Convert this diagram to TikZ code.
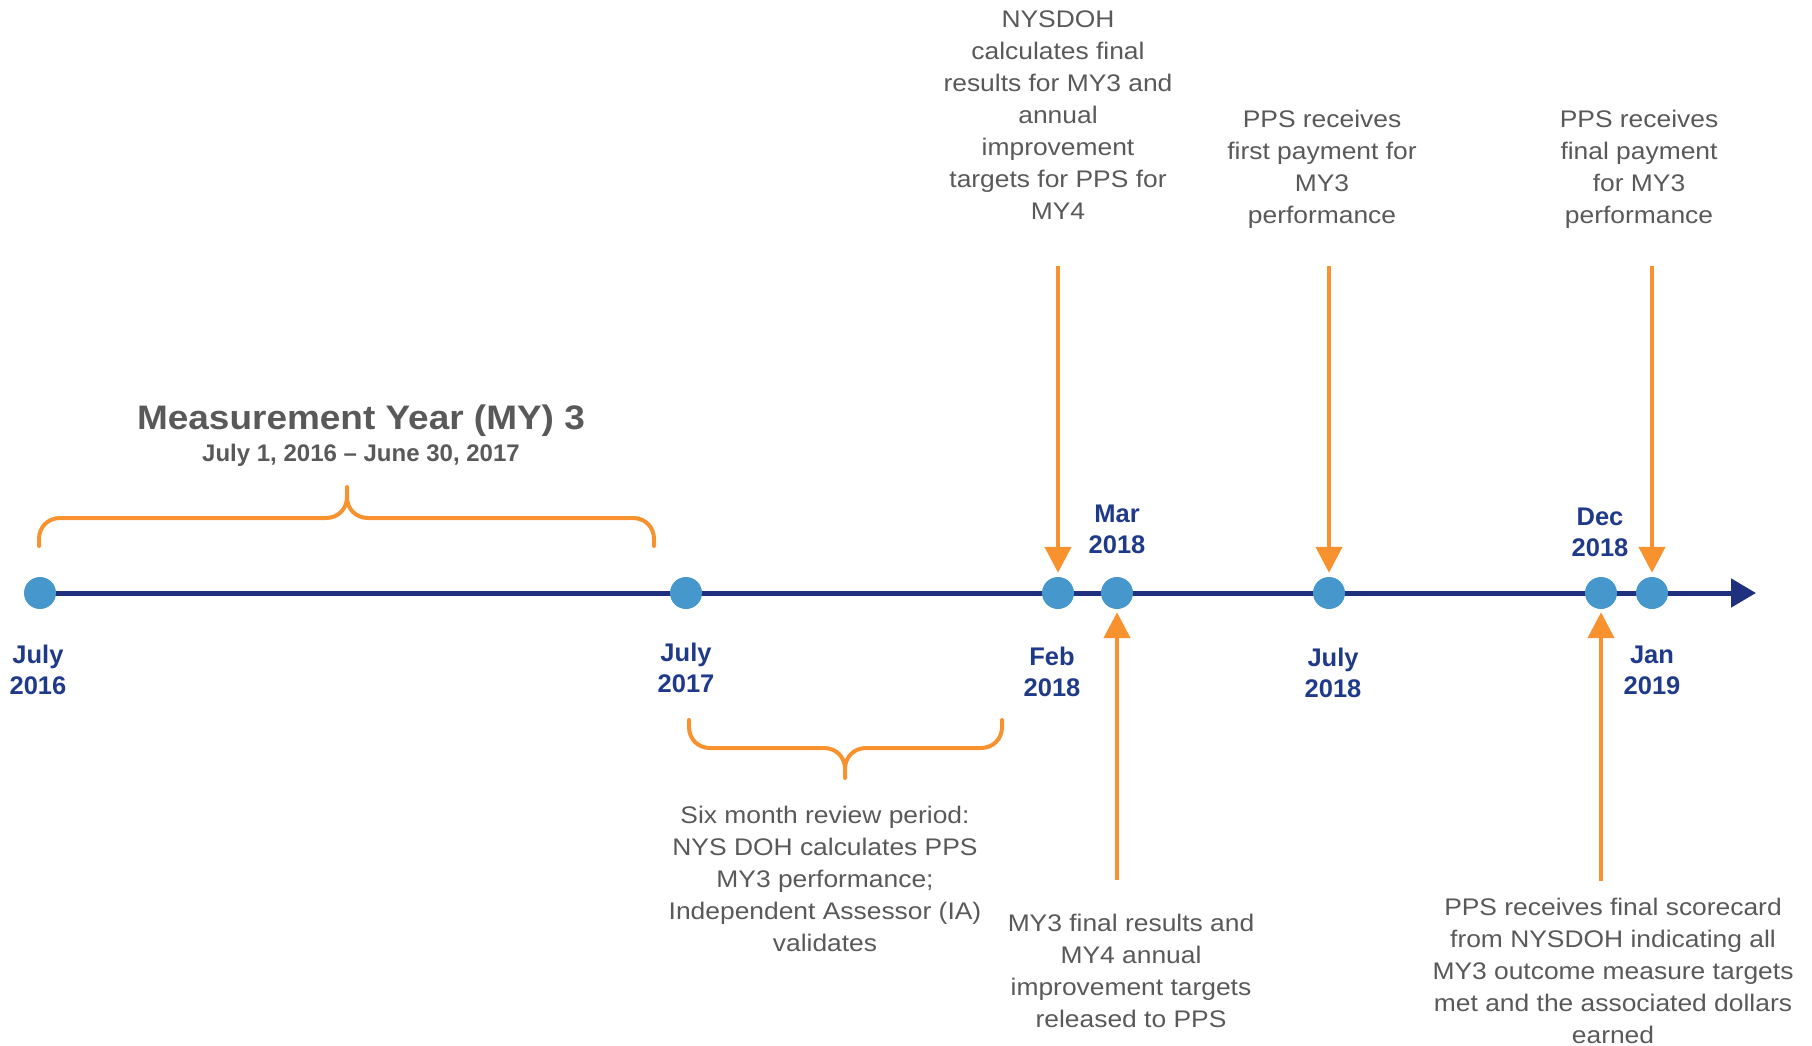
\documentclass[tikz,border=0pt]{standalone}
\usepackage{fontspec}
\setmainfont{Liberation Sans}
\newfontfamily\grayfont[FakeStretch=1.1]{Liberation Sans}
\newfontfamily\titlefont[FakeStretch=1.087]{Liberation Sans}
\usetikzlibrary{arrows.meta,backgrounds}
\definecolor{orangeC}{RGB}{247,146,47}
\definecolor{dotblue}{RGB}{70,152,204}
\definecolor{linenavy}{RGB}{31,49,126}
\definecolor{labelnavy}{RGB}{32,58,138}
\definecolor{graytext}{RGB}{89,89,89}
\begin{document}
\begin{tikzpicture}[x=1pt,y=-1pt,
  dot/.style={circle,fill=dotblue,minimum size=32pt,inner sep=0pt},
  datelabel/.style={anchor=north,inner sep=0pt,align=center,text=labelnavy,font=\fontsize{25.5}{31}\selectfont\bfseries},
  graytxt/.style={anchor=north,inner sep=0pt,align=center,text=graytext,font=\grayfont\fontsize{24}{32}\selectfont},
  oarrow/.style={draw=orangeC,line width=4.5pt,-{Triangle[length=26pt,width=26pt]}},
  bracec/.style={draw=orangeC,line width=4pt,line cap=round,line join=round},
  tline/.style={draw=linenavy,line width=5pt,-{Triangle[length=25pt,width=28pt]}}]
\useasboundingbox (0,0) rectangle (1812,1046);

% dots
\node[dot] (d16) at (40,593) {};
\node[dot] (d17) at (686,593) {};
\node[dot] (dfeb) at (1058,593) {};
\node[dot] (dmar) at (1117,593) {};
\node[dot] (djul) at (1329,593) {};
\node[dot] (ddec) at (1601,593) {};
\node[dot] (djan) at (1652,593) {};
\coordinate (tend) at (1756,593);
\begin{scope}[on background layer]
\draw[tline] (d16.center) -- (tend);
\end{scope}

% date labels
\node[datelabel] (l16) at (38,645) {July\\2016};
\node[datelabel] (l17) at (686,643) {July\\2017};
\node[datelabel] (lfeb) at (1052,647) {Feb\\2018};
\node[datelabel] (lmar) at (1117,505) {Mar\\2018};
\node[datelabel] (ljul) at (1333,648) {July\\2018};
\node[datelabel] (ldec) at (1600,508) {Dec\\2018};
\node[datelabel] (ljan) at (1652,646) {Jan\\2019};

% title
\node[anchor=base,inner sep=0pt,text=graytext,font=\titlefont\bfseries\fontsize{34}{40}\selectfont] (title) at (361,429) {Measurement Year (MY) 3};
\node[anchor=base,inner sep=0pt,text=graytext,font=\bfseries\fontsize{24}{28}\selectfont] (subtitle) at (361,461) {July 1, 2016 -- June 30, 2017};

% braces
\draw[bracec] (39,546) -- (39,539) .. controls (39,527) and (48,518) .. (60,518)
  -- (326,518) .. controls (338,518) and (347,509) .. (347,497) -- (347,487)
  -- (347,497) .. controls (347,509) and (356,518) .. (368,518)
  -- (633,518) .. controls (645,518) and (654,527) .. (654,539) -- (654,546);
\draw[bracec] (689,720) -- (689,727) .. controls (689,739) and (698,748) .. (710,748)
  -- (824,748) .. controls (836,748) and (845,757) .. (845,769) -- (845,778)
  -- (845,769) .. controls (845,757) and (854,748) .. (866,748)
  -- (981,748) .. controls (993,748) and (1002,739) .. (1002,727) -- (1002,720);

% texts
\node[graytxt] (tA) at (1058,11) {NYSDOH\\calculates final\\results for MY3 and\\annual\\improvement\\targets for PPS for\\MY4};
\node[graytxt] (tB) at (1322,110) {PPS receives\\first payment for\\MY3\\performance};
\node[graytxt] (tC) at (1639,110) {PPS receives\\final payment\\for MY3\\performance};
\node[graytxt] (tD) at (825,806) {Six month review period:\\NYS DOH calculates PPS\\MY3 performance;\\Independent Assessor (IA)\\validates};
\node[graytxt] (tE) at (1131,914) {MY3 final results and\\MY4 annual\\improvement targets\\released to PPS};
\node[graytxt] (tF) at (1613,898) {PPS receives final scorecard\\from NYSDOH indicating all\\MY3 outcome measure targets\\met and the associated dollars\\earned};

% arrows
\coordinate (aA) at (1058,266);
\coordinate (aB) at (1329,266);
\coordinate (aC) at (1652,266);
\coordinate (aE) at (1117,880);
\coordinate (aF) at (1601,881);
\draw[oarrow,shorten >=4pt] (aA) -- (dfeb.north);
\draw[oarrow,shorten >=4pt] (aB) -- (djul.north);
\draw[oarrow,shorten >=4pt] (aC) -- (djan.north);
\draw[oarrow,shorten >=3pt] (aE) -- (dmar.south);
\draw[oarrow,shorten >=3pt] (aF) -- (ddec.south);
\end{tikzpicture}
\end{document}
